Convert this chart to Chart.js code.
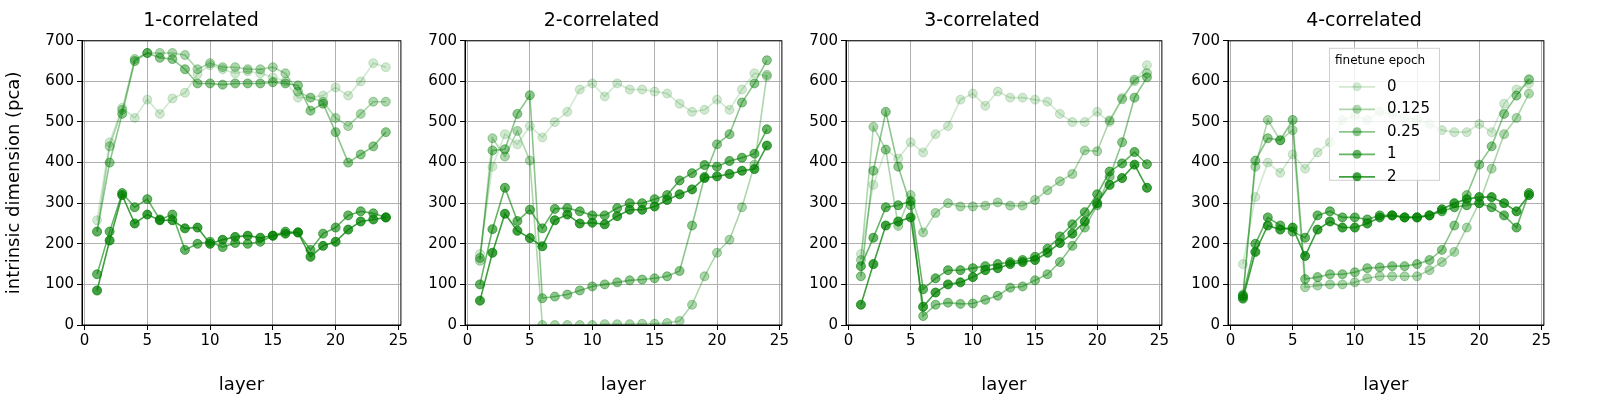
<!DOCTYPE html>
<html><head><meta charset="utf-8">
<script src="https://cdn.jsdelivr.net/npm/chart.js@4.4.0/dist/chart.umd.min.js"></script>
<style>
body{margin:0;background:#fff;width:1600px;height:400px;overflow:hidden;font-family:"DejaVu Sans",sans-serif}
.p{position:absolute;top:0;height:400px}
</style></head><body>
<div class="p" style="left:0;width:410px"><canvas id="c0"></canvas></div>
<div class="p" style="left:420px;width:371px"><canvas id="c1"></canvas></div>
<div class="p" style="left:801px;width:370px"><canvas id="c2"></canvas></div>
<div class="p" style="left:1183px;width:370px"><canvas id="c3"></canvas></div>
<script>
var layers = [1,2,3,4,5,6,7,8,9,10,11,12,13,14,15,16,17,18,19,20,21,22,23,24];
var epochs = ['0','0.125','0.25','1','2'];
var titles = ['1-correlated','2-correlated','3-correlated','4-correlated'];
var xTicks = [0,5,10,15,20,25];
var yTicks = [0,100,200,300,400,500,600,700];

var corr1 = [
  [258,450,535,510,555,520,558,572,618,640,630,620,625,620,610,600,560,560,565,585,565,600,645,635],
  [230,440,530,655,670,670,670,665,630,645,635,635,630,630,635,620,575,560,550,510,490,520,550,550],
  [230,400,520,650,670,658,655,630,595,595,592,595,595,595,598,595,590,528,545,475,400,420,440,475],
  [125,230,325,290,310,260,272,185,200,205,192,202,200,205,220,230,228,185,225,240,270,280,275,265],
  [85,208,320,250,272,258,258,238,240,200,210,217,220,215,220,225,228,168,195,205,235,255,260,265]
];
var corr2 = [
  [175,390,470,445,490,462,500,525,580,595,563,595,580,580,575,570,545,525,530,555,530,580,620,612],
  [158,460,415,478,405,0,0,0,0,0,2,2,2,3,3,5,10,50,120,178,210,290,395,616],
  [165,430,433,520,566,66,70,75,85,95,100,105,110,112,115,120,133,245,365,445,470,548,595,652],
  [100,236,338,256,284,238,286,288,280,270,270,288,300,300,310,320,356,374,394,390,404,412,422,482],
  [60,178,274,232,214,194,258,272,250,252,248,268,284,284,292,308,322,334,362,366,372,380,384,442]
];
var corr3 = [
  [175,345,432,410,450,425,470,490,555,570,540,575,560,560,555,550,520,500,500,525,500,560,600,640],
  [160,488,432,244,320,228,276,300,292,292,294,302,294,294,308,332,354,372,430,428,504,556,604,620],
  [120,380,525,390,295,22,50,55,52,53,62,72,92,95,110,125,155,195,240,295,365,450,560,610],
  [145,215,290,295,305,88,115,135,135,140,145,150,155,160,168,188,218,248,278,322,378,398,426,396],
  [50,150,245,255,265,45,80,100,105,118,135,140,150,155,160,178,202,225,255,300,345,362,395,338]
];
var corr4 = [
  [150,315,400,375,420,385,425,450,505,515,505,525,520,510,505,495,480,475,475,495,475,545,580,595],
  [75,390,505,455,480,93,97,100,100,105,115,120,120,120,120,135,155,180,240,300,385,470,510,570],
  [70,405,460,455,505,113,118,125,125,130,140,142,145,145,150,160,185,245,320,395,440,520,565,605],
  [72,200,265,245,230,215,270,280,265,265,260,270,270,265,265,270,280,290,295,300,290,270,240,325],
  [65,180,245,235,240,170,235,255,240,240,250,265,270,265,265,270,285,300,310,315,315,300,280,320]
];
var panels = [corr1, corr2, corr3, corr4];
var alphas = [0.18, 0.32, 0.45, 0.6, 0.75];

function green(a){ return 'rgba(0,128,0,' + a + ')'; }

// black frame on all four sides of the plot area
var framePlugin = {
  id: 'frame',
  afterDraw: function(chart){
    var a = chart.chartArea, ctx = chart.ctx;
    ctx.save(); ctx.strokeStyle = '#000'; ctx.lineWidth = 1;
    ctx.strokeRect(a.left, a.top, a.right - a.left, a.bottom - a.top);
    ctx.restore();
  }
};

// matplotlib-style legend inside the last panel
var legendPlugin = {
  id: 'innerLegend',
  afterDatasetsDraw: function(chart, args, opts){
    if(!opts.show) return;
    var a = chart.chartArea, ctx = chart.ctx;
    var x = a.left + 101, y = a.top + 7, w = 110, h = 132;
    ctx.save();
    ctx.fillStyle = 'rgba(255,255,255,0.8)';
    ctx.strokeStyle = '#d0d0d0';
    ctx.fillRect(x, y, w, h); ctx.strokeRect(x + .5, y + .5, w, h);
    ctx.fillStyle = '#000';
    ctx.font = '12px "DejaVu Sans"';
    ctx.textBaseline = 'middle';
    ctx.fillText('finetune epoch', x + 6, y + 13);
    ctx.font = '15px "DejaVu Sans"';
    epochs.forEach(function(e, i){
      var yy = y + 39 + i * 22.5;
      ctx.strokeStyle = green(alphas[i]); ctx.lineWidth = 1.8;
      ctx.beginPath(); ctx.moveTo(x + 10, yy); ctx.lineTo(x + 46, yy); ctx.stroke();
      ctx.fillStyle = green(alphas[i]);
      ctx.beginPath(); ctx.arc(x + 28, yy, 4.5, 0, Math.PI * 2); ctx.fill();
      ctx.fillStyle = '#000';
      ctx.fillText(e, x + 58, yy);
    });
    ctx.restore();
  }
};

panels.forEach(function(series, p){
  var datasets = series.map(function(vals, i){
    return {
      label: epochs[i],
      data: layers.map(function(l, k){ return {x: l, y: vals[k]}; }),
      borderColor: green(alphas[i]),
      backgroundColor: green(alphas[i]),
      pointBorderColor: green(alphas[i]),
      borderWidth: 1.6,
      pointRadius: 4.5,
      pointBorderWidth: 1,
      showLine: true,
      tension: 0
    };
  });
  new Chart(document.getElementById('c' + p), {
    type: 'scatter',
    data: {datasets: datasets},
    plugins: [framePlugin, legendPlugin],
    options: {
      responsive: true, maintainAspectRatio: false, animation: false,
      layout: {padding: {top: 6, right: 8, bottom: 0, left: 0}},
      plugins: {
        legend: {display: false}, tooltip: {enabled: false},
        title: {display: true, text: titles[p], color: '#000', font: {size: 19, family: 'DejaVu Sans', weight: 'normal'}, padding: {top: 4, bottom: 8}},
        innerLegend: {show: p === 3}
      },
      scales: {
        x: {
          type: 'linear', min: -0.2, max: 25.2,
          afterBuildTicks: function(ax){ ax.ticks = xTicks.map(function(v){ return {value: v}; }); },
          afterFit: function(ax){ ax.height = 75; },
          grid: {color: '#b0b0b0', drawTicks: true, tickLength: 5, tickColor: '#000'},
          border: {color: '#000'},
          ticks: {color: '#000', font: {size: 15, family: 'DejaVu Sans'}, padding: 2, maxRotation: 0},
          title: {display: true, text: 'layer', color: '#000', font: {size: 18, family: 'DejaVu Sans'}, padding: {top: 2, bottom: 4}}
        },
        y: {
          min: 0, max: 700,
          afterBuildTicks: function(ax){ ax.ticks = yTicks.map(function(v){ return {value: v}; }); },
          afterFit: function(ax){ ax.width = p === 0 ? 82 : 45; },
          grid: {color: '#b0b0b0', tickLength: 5, tickColor: '#000'},
          border: {color: '#000'},
          ticks: {color: '#000', font: {size: 15, family: 'DejaVu Sans'}, padding: 3},
          title: {display: p === 0, text: 'intrinsic dimension (pca)', color: '#000', font: {size: 18, family: 'DejaVu Sans'}, padding: {top: 4, bottom: 4}}
        }
      }
    }
  });
});
</script>
</body></html>
